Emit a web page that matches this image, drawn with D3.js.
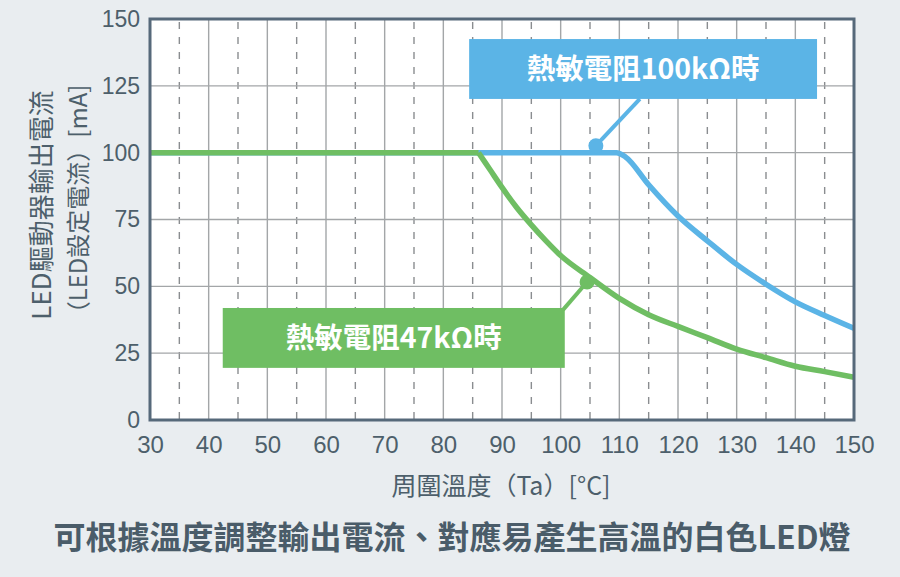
<!DOCTYPE html>
<html>
<head>
<meta charset="utf-8">
<script src="https://cdn.jsdelivr.net/npm/d3@7"></script>
<style>
  body { margin: 0; background: #e9edf0; }
  svg { display: block; }
</style>
</head>
<body>
<div id="chart"></div>
<script>
// data
var xTicks = [30, 40, 50, 60, 70, 80, 90, 100, 110, 120, 130, 140, 150];
var xMinor = [35, 45, 55, 65, 75, 85, 95, 105, 115, 125, 135, 145];
var yTicks = [0, 25, 50, 75, 100, 125, 150];

var temp47k = [30, 86, 88, 90, 92.5, 95, 97.5, 100, 105, 110, 115, 120, 125, 130, 135, 140, 145, 150];
var curr47k = [100, 100, 93.5, 87, 79.5, 73, 67, 61.5, 53.3, 45.5, 39.4, 35, 30.8, 26.5, 23.3, 20.1, 18.1, 16];

var temp100k = [30, 109.5, 111, 115, 120, 125, 130, 135, 140, 145, 150];
var curr100k = [100, 100, 98.5, 88, 76.3, 67, 58.2, 50.8, 44.2, 39.1, 34.3];

var labels = ["熱敏電阻100kΩ時", "熱敏電阻47kΩ時"];
var dotTemp = [106, 104.5];
var dotCurr = [102.6, 51.6];

var width = 900, height = 577;
var margin = { top: 19, right: 46, bottom: 157, left: 150 };

var svg = d3.select("#chart")
  .append("svg")
  .attr("width", width)
  .attr("height", height);

svg.append("rect")
  .attr("width", width)
  .attr("height", height)
  .attr("fill", "#e9edf0");

var x = d3.scaleLinear().domain([30, 150]).range([margin.left, width - margin.right]);
var y = d3.scaleLinear().domain([0, 150]).range([height - margin.bottom, margin.top]);

var textColor = "#4d5f6b";
var blue = "#5bb4e6";
var green = "#6fbe63";

// plot background
svg.append("rect")
  .attr("x", x(30))
  .attr("y", y(150))
  .attr("width", x(150) - x(30))
  .attr("height", y(0) - y(150))
  .attr("fill", "#ffffff");

// grid
svg.selectAll(".vgrid")
  .data(xTicks.slice(1, -1))
  .enter()
  .append("line")
  .attr("x1", function(d) { return x(d); })
  .attr("x2", function(d) { return x(d); })
  .attr("y1", y(150))
  .attr("y2", y(0))
  .attr("stroke", "#a3a6a8")
  .attr("stroke-width", 1.4);

svg.selectAll(".vminor")
  .data(xMinor)
  .enter()
  .append("line")
  .attr("x1", function(d) { return x(d); })
  .attr("x2", function(d) { return x(d); })
  .attr("y1", y(150) + 3)
  .attr("y2", y(0))
  .attr("stroke", "#8a8d90")
  .attr("stroke-width", 1.4)
  .attr("stroke-dasharray", "7,8");

svg.selectAll(".hgrid")
  .data(yTicks.slice(1, -1))
  .enter()
  .append("line")
  .attr("x1", x(30))
  .attr("x2", x(150))
  .attr("y1", function(d) { return y(d); })
  .attr("y2", function(d) { return y(d); })
  .attr("stroke", "#a3a6a8")
  .attr("stroke-width", 1.4);

// curves
var line = d3.line()
  .x(function(d) { return x(d[0]); })
  .y(function(d) { return y(d[1]); })
  .curve(d3.curveMonotoneX);

svg.append("path")
  .datum(d3.zip(temp100k, curr100k))
  .attr("d", line)
  .attr("fill", "none")
  .attr("stroke", blue)
  .attr("stroke-width", 5.5);

svg.append("path")
  .datum(d3.zip(temp47k, curr47k).filter(function(d) { return d[0] <= 87; }))
  .attr("d", line)
  .attr("fill", "none")
  .attr("stroke", green)
  .attr("stroke-width", 5.5);

svg.append("path")
  .datum(d3.zip(temp47k, curr47k).slice(1))
  .attr("d", line)
  .attr("fill", "none")
  .attr("stroke", green)
  .attr("stroke-width", 5.5);

// frame
svg.append("rect")
  .attr("x", x(30))
  .attr("y", y(150))
  .attr("width", x(150) - x(30))
  .attr("height", y(0) - y(150))
  .attr("fill", "none")
  .attr("stroke", "#56697a")
  .attr("stroke-width", 3);

// callouts (box corners in data units)
var boxT0 = [84.4, 42.4], boxT1 = [143.7, 100.7];
var boxC0 = [142.5, 41.9], boxC1 = [120.1, 19.5];
var leadT = [113.5, 100.4], leadC = [120.1, 41.2];
var boxColor = [blue, green];

[0, 1].forEach(function(i) {
  svg.append("line")
    .attr("x1", x(dotTemp[i]))
    .attr("y1", y(dotCurr[i]))
    .attr("x2", x(leadT[i]))
    .attr("y2", y(leadC[i]))
    .attr("stroke", boxColor[i])
    .attr("stroke-width", 4);
  svg.append("circle")
    .attr("cx", x(dotTemp[i]))
    .attr("cy", y(dotCurr[i]))
    .attr("r", 7.5)
    .attr("fill", boxColor[i]);
  svg.append("rect")
    .attr("x", x(boxT0[i]))
    .attr("y", y(boxC0[i]))
    .attr("width", x(boxT1[i]) - x(boxT0[i]))
    .attr("height", y(boxC1[i]) - y(boxC0[i]))
    .attr("fill", boxColor[i]);
  svg.append("text")
    .attr("x", (x(boxT0[i]) + x(boxT1[i])) / 2)
    .attr("y", (y(boxC0[i]) + y(boxC1[i])) / 2)
    .attr("dy", "0.36em")
    .attr("text-anchor", "middle")
    .attr("font-family", "'Noto Sans CJK TC', sans-serif")
    .attr("font-weight", "bold")
    .attr("font-size", 28.5)
    .attr("fill", "#ffffff")
    .text(labels[i]);
});

// axes
var yAxis = svg.append("g")
  .attr("transform", "translate(" + (x(30) - 10) + ",0)")
  .call(d3.axisLeft(y).tickValues(yTicks).tickSize(0).tickPadding(0));
yAxis.select(".domain").remove();
yAxis.selectAll("text")
  .attr("font-family", "'Liberation Sans', Arial, sans-serif")
  .attr("font-size", 23)
  .attr("fill", textColor);

var xAxis = svg.append("g")
  .attr("transform", "translate(0," + (y(0) + 16) + ")")
  .call(d3.axisBottom(x).tickValues(xTicks).tickSize(0).tickPadding(0));
xAxis.select(".domain").remove();
xAxis.selectAll("text")
  .attr("font-family", "'Liberation Sans', Arial, sans-serif")
  .attr("font-size", 24)
  .attr("fill", textColor);

// axis titles
svg.append("text")
  .attr("x", 501)
  .attr("y", 486)
  .attr("dy", "0.36em")
  .attr("text-anchor", "middle")
  .attr("font-family", "'Noto Sans CJK TC', sans-serif")
  .attr("font-size", 25)
  .attr("fill", textColor)
  .text("周圍溫度（Ta）[°C]");

var yTitle = svg.append("g")
  .attr("transform", "translate(60,205) rotate(-90)");
yTitle.append("text")
  .attr("x", 0)
  .attr("y", -18)
  .attr("dy", "0.36em")
  .attr("text-anchor", "middle")
  .attr("font-family", "'Noto Sans CJK TC', sans-serif")
  .attr("font-size", 26)
  .attr("fill", textColor)
  .text("LED驅動器輸出電流");
yTitle.append("text")
  .attr("x", 0)
  .attr("y", 18)
  .attr("dy", "0.36em")
  .attr("text-anchor", "middle")
  .attr("font-family", "'Noto Sans CJK TC', sans-serif")
  .attr("font-size", 24)
  .attr("fill", textColor)
  .text("（LED設定電流）[mA]");

// caption
svg.append("text")
  .attr("x", 452)
  .attr("y", 537)
  .attr("dy", "0.36em")
  .attr("text-anchor", "middle")
  .attr("font-family", "'Noto Sans CJK TC', sans-serif")
  .attr("font-weight", "bold")
  .attr("font-size", 32)
  .attr("fill", "#4a5c69")
  .text("可根據溫度調整輸出電流、對應易產生高溫的白色LED燈");
</script>
</body>
</html>
